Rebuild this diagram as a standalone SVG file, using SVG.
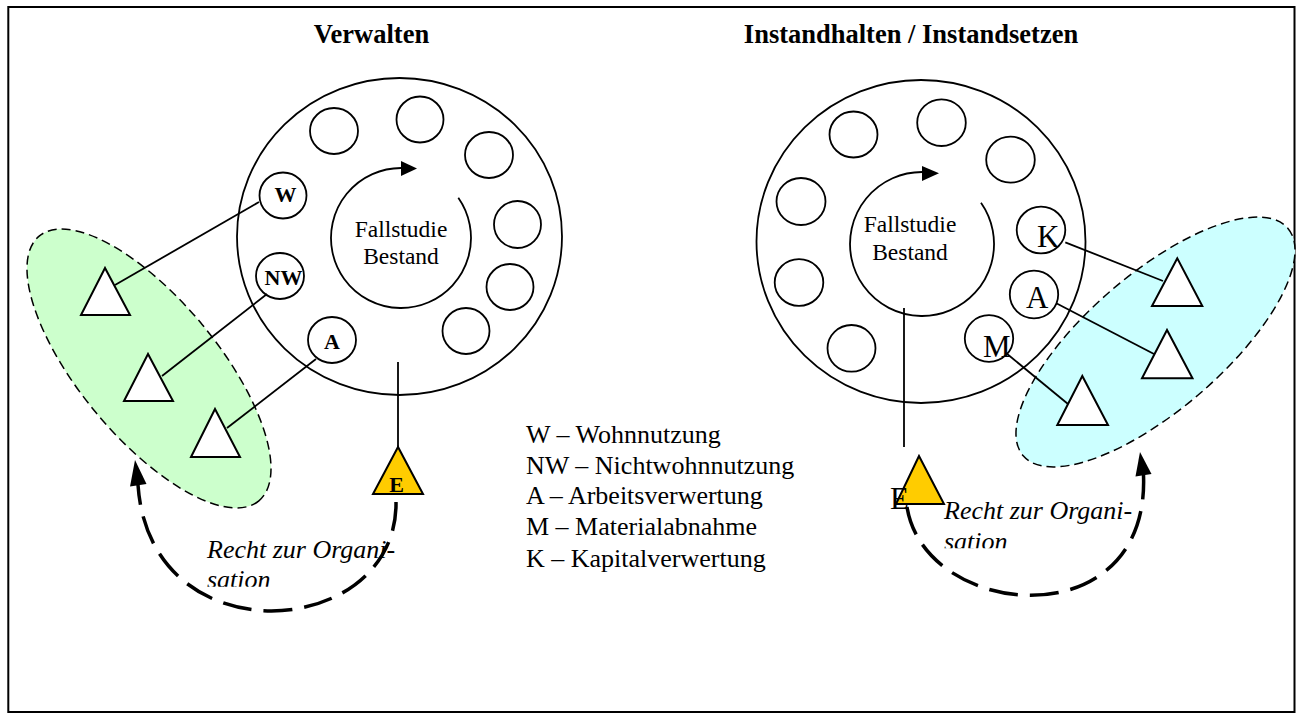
<svg xmlns="http://www.w3.org/2000/svg" width="1302" height="720" viewBox="0 0 1302 720">
  <style>
    .frame { fill: none; stroke: #000; stroke-width: 2; }
    .title { font-family: "Liberation Serif", "Times New Roman", serif; font-weight: bold; font-size: 26.5px; text-anchor: middle; fill: #000; }
    .ring { fill: none; stroke: #000; stroke-width: 1.8; }
    .slot { fill: #fff; stroke: #000; stroke-width: 1.8; }
    .core { fill: none; stroke: #000; stroke-width: 1.8; }
    .core-text { font-family: "Liberation Serif", "Times New Roman", serif; font-size: 23.5px; text-anchor: middle; fill: #000; }
    .tag-b { font-family: "Liberation Serif", "Times New Roman", serif; font-weight: bold; font-size: 22px; text-anchor: middle; fill: #000; }
    .tag-r { font-family: "Liberation Serif", "Times New Roman", serif; font-size: 31px; fill: #000; }
    .group-green { fill: #CCFFCC; stroke: #000; stroke-width: 1.5; stroke-dasharray: 9 5; }
    .group-cyan { fill: #CCFFFF; stroke: #000; stroke-width: 1.5; stroke-dasharray: 9 5; }
    .actor { fill: #fff; stroke: #000; stroke-width: 2; stroke-linejoin: miter; }
    .owner { fill: #FFCC00; stroke: #000; stroke-width: 2; }
    .link { fill: none; stroke: #000; stroke-width: 1.8; }
    .right-arc { fill: none; stroke: #000; stroke-width: 3.5; stroke-dasharray: 29 12; }
    .head { fill: #000; stroke: none; }
    .note { font-family: "Liberation Serif", "Times New Roman", serif; font-style: italic; font-size: 26px; fill: #000; }
    .legend { font-family: "Liberation Serif", "Times New Roman", serif; font-size: 26px; fill: #000; }
  </style>
  <defs>
    <clipPath id="clip-note-left"><rect x="190" y="520" width="240" height="66.7"/></clipPath>
    <clipPath id="clip-note-right"><rect x="930" y="480" width="240" height="68.3"/></clipPath>
  </defs>

  <rect class="frame" x="8.3" y="7" width="1286.2" height="705"/>

  <!-- headings -->
  <g id="heading-left"><text class="title" x="371.5" y="42.5">Verwalten</text></g>
  <g id="heading-right"><text class="title" x="911" y="42.5">Instandhalten / Instandsetzen</text></g>

  <!-- user groups (drawn first as background) -->
  <g id="group-left"><ellipse class="group-green" cx="0" cy="0" rx="172" ry="69" transform="translate(149 368.5) rotate(50.3)"/></g>
  <g id="group-right"><ellipse class="group-cyan" cx="0" cy="0" rx="174.5" ry="68" transform="translate(1155.5 342) rotate(-40.7)"/></g>

  <!-- left portfolio -->
  <g id="portfolio-left">
    <ellipse class="ring" cx="399.5" cy="236.5" rx="162.5" ry="158.5"/>
    <ellipse class="slot" cx="334" cy="131" rx="24" ry="23"/>
    <ellipse class="slot" cx="420" cy="119.5" rx="23.5" ry="23"/>
    <ellipse class="slot" cx="489" cy="155" rx="24" ry="23"/>
    <ellipse class="slot" cx="517.5" cy="224.5" rx="23.5" ry="23.5"/>
    <ellipse class="slot" cx="510" cy="287" rx="23.5" ry="23"/>
    <ellipse class="slot" cx="466" cy="331" rx="23.5" ry="23"/>
    <path class="core" d="M458.3,197.8 A70,70 0 1 1 401,168"/>
    <polygon class="head" points="401,161 417,168.5 401,176"/>
    <text class="core-text" x="401" y="237">Fallstudie</text>
    <text class="core-text" x="401" y="264">Bestand</text>
  </g>
  <g id="slot-W"><ellipse class="slot" cx="283" cy="195.5" rx="23.5" ry="23"/><text class="tag-b" x="285.5" y="201.7">W</text></g>
  <g id="slot-NW"><ellipse class="slot" cx="280" cy="276" rx="24" ry="23"/><text class="tag-b" x="283.5" y="285" font-size="23.5">NW</text></g>
  <g id="slot-A-left"><ellipse class="slot" cx="332" cy="340" rx="24" ry="23"/><text class="tag-b" x="332" y="349">A</text></g>

  <!-- right portfolio -->
  <g id="portfolio-right">
    <ellipse class="ring" cx="921" cy="241.5" rx="164.5" ry="161.5"/>
    <ellipse class="slot" cx="853.5" cy="134.5" rx="24" ry="23"/>
    <ellipse class="slot" cx="941.5" cy="122.7" rx="24.3" ry="23.3"/>
    <ellipse class="slot" cx="1010.5" cy="159.7" rx="24.3" ry="23"/>
    <ellipse class="slot" cx="801" cy="201.5" rx="24.5" ry="23.5"/>
    <ellipse class="slot" cx="799" cy="282.5" rx="24.3" ry="23.3"/>
    <ellipse class="slot" cx="851.5" cy="348.3" rx="24" ry="23.3"/>
    <path class="core" d="M981,202.7 A72,72 0 1 1 922,172"/>
    <polygon class="head" points="922,166 939,173.3 922,181"/>
    <text class="core-text" x="910" y="232">Fallstudie</text>
    <text class="core-text" x="910" y="259.5">Bestand</text>
  </g>
  <g id="slot-K"><ellipse class="slot" cx="1041" cy="230" rx="24.3" ry="23.3"/><text class="tag-r" x="1037" y="247">K</text></g>
  <g id="slot-A-right"><ellipse class="slot" cx="1034" cy="294.5" rx="24.2" ry="23.8"/><text class="tag-r" x="1026" y="308">A</text></g>
  <g id="slot-M"><ellipse class="slot" cx="989" cy="338.5" rx="24.2" ry="23.3"/><text class="tag-r" x="983" y="357">M</text></g>

  <!-- connectors -->
  <g id="connectors">
    <line class="link" x1="259" y1="202" x2="115" y2="285"/>
    <line class="link" x1="267" y1="294" x2="162" y2="376"/>
    <line class="link" x1="316" y1="359" x2="227" y2="428"/>
    <line class="link" x1="398" y1="362" x2="398" y2="447"/>
    <line class="link" x1="1065.3" y1="242.3" x2="1163" y2="281"/>
    <line class="link" x1="1056.3" y1="303.3" x2="1154" y2="354"/>
    <line class="link" x1="1006.3" y1="353.3" x2="1068" y2="404"/>
    <line class="link" x1="904" y1="308" x2="904" y2="447"/>
  </g>

  <!-- actors in the groups -->
  <g id="actor-left-1"><polygon class="actor" points="105,268 81,315 130,315"/></g>
  <g id="actor-left-2"><polygon class="actor" points="148,354 124,401 173,401"/></g>
  <g id="actor-left-3"><polygon class="actor" points="215,409 191,457 240,457"/></g>
  <g id="actor-right-K"><polygon class="actor" points="1177.3,258.3 1152,306 1202.3,306"/></g>
  <g id="actor-right-A"><polygon class="actor" points="1167,330 1142,378.3 1192.5,378.3"/></g>
  <g id="actor-right-M"><polygon class="actor" points="1082.3,376 1057.3,425 1108,425"/></g>

  <!-- owners -->
  <g id="owner-left"><polygon class="owner" points="398,447 373,494 423,494"/><text class="tag-b" x="396.5" y="492" font-size="23">E</text></g>
  <g id="owner-right"><polygon class="owner" points="919,456 896,504 944,504"/><text class="tag-r" x="890" y="509">E</text></g>

  <!-- notes -->
  <g id="note-left" clip-path="url(#clip-note-left)">
    <text class="note" x="207" y="557.7">Recht zur Organi-</text>
    <text class="note" x="207" y="588">sation</text>
  </g>
  <g id="note-right" clip-path="url(#clip-note-right)">
    <text class="note" x="944" y="519.3">Recht zur Organi-</text>
    <text class="note" x="944" y="549.6">sation</text>
  </g>

  <!-- delegation arcs -->
  <g id="delegation">
    <path class="right-arc" d="M396,502 C398,640 150,660 138,485"/>
    <polygon class="head" points="135,460 130,486.5 146.5,484"/>
    <path class="right-arc" d="M907,507 C925,620 1150,640 1143.5,475"/>
    <polygon class="head" points="1140,452 1135.5,476.5 1151.5,474"/>
  </g>

  <!-- legend -->
  <g id="legend">
    <text class="legend" x="526" y="443">W – Wohnnutzung</text>
    <text class="legend" x="526" y="473.5">NW – Nichtwohnnutzung</text>
    <text class="legend" x="526" y="504">A – Arbeitsverwertung</text>
    <text class="legend" x="526" y="534.5">M – Materialabnahme</text>
    <text class="legend" x="526" y="566.5">K – Kapitalverwertung</text>
  </g>
</svg>
